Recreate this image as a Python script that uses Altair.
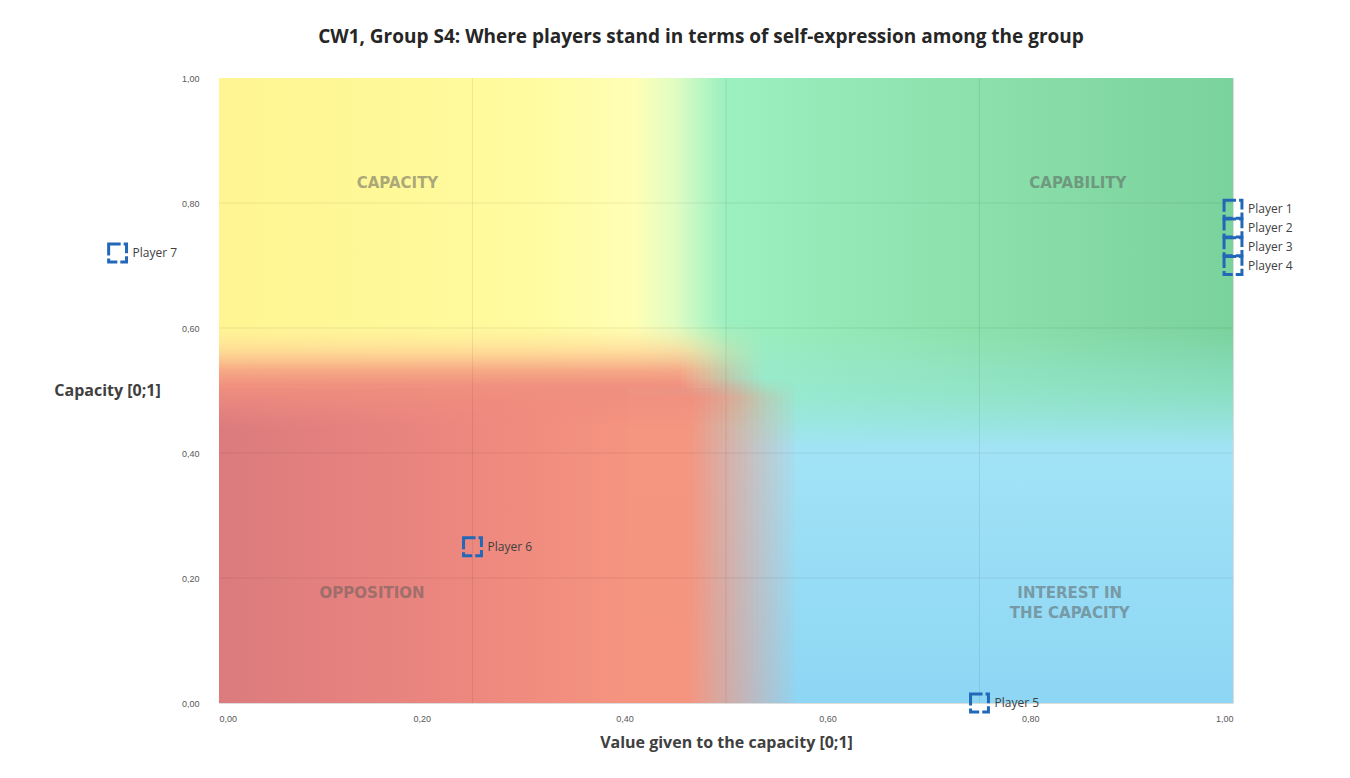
import altair as alt
import pandas as pd

# ---------------- data ----------------
players = ["Player 1", "Player 2", "Player 3", "Player 4", "Player 5", "Player 6", "Player 7"]
value_given = [1.00, 1.00, 1.00, 1.00, 0.75, 0.25, -0.10]
capacity = [0.79, 0.76, 0.73, 0.70, 0.00, 0.25, 0.72]

quad_text = ["CAPACITY", "CAPABILITY", "OPPOSITION", "INTEREST IN\nTHE CAPACITY"]
quad_x = [0.176, 0.847, 0.151, 0.839]
quad_y = [0.832, 0.832, 0.176, 0.176]

W, H = 1014, 625

# background zones (data-space bounds)
bg_region = ["green", "blue", "yellow", "red"]
bg_x0 = [0.40, 0.44, 0.00, 0.00]
bg_x1 = [1.00, 1.00, 0.50, 408 / W]
bg_y0 = [0.00, 0.00, 0.504, 0.00]
bg_y1 = [1.00, 0.60, 1.00, 0.512]
band_y = [0.440, 0.608]     # red -> yellow blend band
band_slices = [0, 96]        # 6-px slices of the blend band
redfade_y = [0.00, 0.520]    # right-hand, fading part of the red zone
redfade_slices = [68, 96]

h_grid = [0.2, 0.4, 0.6, 0.8]
v_grid = [0.25, 0.5, 0.75]

pts = pd.DataFrame({"player": players, "value": value_given, "capacity": capacity})
quads = pd.DataFrame({"label": quad_text, "x": quad_x, "y": quad_y})
bg = pd.DataFrame({"region": bg_region, "x0": bg_x0, "x1": bg_x1, "y0": bg_y0, "y1": bg_y1})
hg = pd.DataFrame({"h": h_grid})
vg = pd.DataFrame({"v": v_grid})

# ---------------- scales / axes ----------------
xs = alt.Scale(domain=[0, 1], nice=False, zero=False)
ys = alt.Scale(domain=[0, 1], nice=False, zero=False)
lab = "replace(format(datum.value, '.2f'), '.', ',')"
xaxis = alt.Axis(values=[0, 0.2, 0.4, 0.6, 0.8, 1.0], labelExpr=lab, grid=False, domain=False,
                 ticks=False, labelPadding=11, labelFontSize=9, labelColor="#595959",
                 labelFont="Liberation Sans", title="Value given to the capacity [0;1]",
                 titleFont="Open Sans", titleFontSize=16, titleFontWeight="bold",
                 titleColor="#404040", titlePadding=11)
yaxis = alt.Axis(values=[0, 0.2, 0.4, 0.6, 0.8, 1.0], labelExpr=lab, grid=False, domain=False,
                 ticks=False, labelPadding=20, labelFontSize=9, labelColor="#595959",
                 labelFont="Liberation Sans", title="Capacity [0;1]",
                 titleFont="Open Sans", titleFontSize=16, titleFontWeight="bold",
                 titleColor="#404040", titleAngle=0, titleX=-112, titleY=312,
                 titleAlign="center", titleBaseline="middle")


def X(f):
    return alt.X(f, type="quantitative", scale=xs, axis=xaxis)


def Y(f):
    return alt.Y(f, type="quantitative", scale=ys, axis=yaxis)


def hgrad(stops):
    return alt.Gradient(gradient="linear", x1=0, y1=0, x2=1, y2=0,
                        stops=[alt.GradientStop(offset=o, color=c) for o, c in stops])


def vgrad(stops):
    return alt.Gradient(gradient="linear", x1=0, y1=0, x2=0, y2=1,
                        stops=[alt.GradientStop(offset=o, color=c) for o, c in stops])


def region(name, grad):
    return (alt.Chart(bg).transform_filter(alt.datum.region == name)
            .mark_rect(color=grad, strokeWidth=0)
            .encode(x=X("x0"), x2="x1", y=Y("y0"), y2="y1"))


def slices(rng, yr, op_expr, grad):
    return (alt.Chart(alt.sequence(rng[0], rng[1], 1, as_="i"))
            .transform_calculate(sx=f"datum.i * 6 / {W}", sx2=f"(datum.i + 1) * 6 / {W}",
                                 sy0=str(yr[0]), sy1=str(yr[1]))
            .transform_calculate(sop=op_expr)
            .mark_rect(strokeWidth=0, color=grad)
            .encode(x=X("sx:Q"), x2="sx2:Q", y=Y("sy0:Q"), y2="sy1:Q",
                    opacity=alt.Opacity("sop:Q", scale=None, legend=None)))


green = region("green", hgrad([(0, "#a8f5c6"), (0.17, "#9cefbf"), (0.58, "#8ce0ab"), (1, "#7ad29c")]))
blue = region("blue", vgrad([(0, "rgba(150,232,225,0)"), (0.18, "rgba(150,232,222,0.6)"),
                             (0.32, "#a2e3f6"), (1, "#8dd6f4")]))
yellow = region("yellow", hgrad([(0, "#fff592"), (0.6, "#fffb9e"), (0.82, "#ffffb5"),
                                 (0.9, "rgba(240,255,195,0.8)"), (1, "rgba(220,255,200,0)")]))
red = region("red", hgrad([(0, "#dc7b7e"), (0.62, "#ed887f"), (1, "#f5947f")]))

red_fade = slices(redfade_slices, redfade_y, "clamp((0.57 - datum.sx) / 0.11, 0, 1)",
                  vgrad([(0, "rgba(242,150,128,0)"), (0.06, "rgba(244,150,128,1)"),
                         (1, "rgba(245,149,127,1)")]))

band = slices(band_slices, band_y, "clamp((0.535 - datum.sx) / 0.085, 0, 1)",
              vgrad([(0, "rgba(255,238,160,0)"), (0.25, "rgba(255,212,150,0.7)"),
                     (0.45, "rgba(246,165,132,0.95)"), (0.6, "rgba(240,143,127,1)"),
                     (1, "rgba(238,138,127,0)")]))

hrules = alt.Chart(hg).mark_rule(color="#000000", opacity=0.07, strokeWidth=1).encode(y=Y("h"))
vrules = alt.Chart(vg).mark_rule(color="#000000", opacity=0.07, strokeWidth=1).encode(x=X("v"))

quad_layer = alt.Chart(quads).mark_text(font="DejaVu Sans", fontSize=15, fontWeight="bold",
                                        color="#5a5a5a", opacity=0.5, lineBreak="\n",
                                        lineHeight=20, align="center", baseline="middle").encode(
    x=X("x"), y=Y("y"), text="label:N")

points = alt.Chart(pts).mark_point(shape="square", filled=False, size=320, stroke="#2168b8",
                                   strokeWidth=3, strokeDash=[12, 3], opacity=1).encode(
    x=X("value"), y=Y("capacity"))

labels = alt.Chart(pts).mark_text(align="left", baseline="middle", dx=15, font="Open Sans",
                                  fontSize=12, color="#404040").encode(
    x=X("value"), y=Y("capacity"), text="player:N")

chart = alt.layer(green, blue, red, red_fade, yellow, band, hrules, vrules, quad_layer,
                  points, labels).properties(
    width=W, height=H,
    padding={"left": 211, "top": 70, "right": 109, "bottom": 60},
    autosize=alt.AutoSizeParams(type="none"),
    title=alt.TitleParams("CW1, Group S4: Where players stand in terms of self-expression among the group",
                          font="Open Sans", fontSize=19, fontWeight="bold", color="#262626",
                          anchor="middle", offset=27, dx=-25),
).configure_view(stroke=None).configure(background="white")

chart.save("out.html", embed_options={"renderer": "svg", "actions": False})
